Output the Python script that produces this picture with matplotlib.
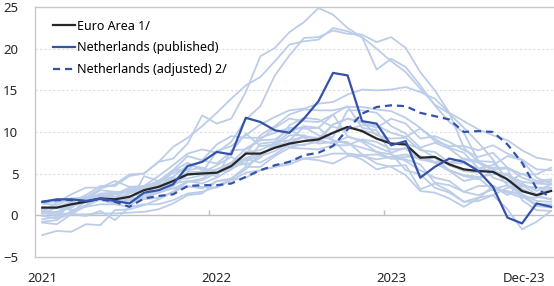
import matplotlib
matplotlib.use("Agg")
from matplotlib import pyplot as plt

# monthly HICP inflation, Jan-2021 .. Dec-2023 (y/y, percent)
months = list(range(36))
tick_pos = [0, 12, 24, 35]
tick_labels = ["2021", "2022", "2023", "Dec-23"]

euro_area = [0.9, 0.9, 1.3, 1.6, 2.0, 1.9, 2.2, 3.0, 3.4, 4.1, 4.9, 5.0,
             5.1, 5.9, 7.4, 7.4, 8.1, 8.6, 8.9, 9.1, 9.9, 10.6, 10.1, 9.2,
             8.6, 8.5, 6.9, 7.0, 6.1, 5.5, 5.3, 5.2, 4.3, 2.9, 2.4, 2.9]
nl_published = [1.6, 1.9, 1.9, 1.7, 2.0, 1.7, 1.4, 2.7, 3.0, 3.7, 5.9, 6.4,
                7.6, 7.3, 11.7, 11.2, 10.2, 9.9, 11.6, 13.7, 17.1, 16.8, 11.3, 11.0,
                8.4, 8.9, 4.5, 5.8, 6.8, 6.4, 5.3, 3.4, -0.3, -1.0, 1.4, 1.0]
nl_adjusted = [1.6, 1.8, 1.8, 1.7, 1.9, 1.6, 1.0, 2.0, 2.3, 2.5, 3.5, 3.6,
               3.6, 3.8, 4.6, 5.4, 6.0, 6.4, 7.2, 7.5, 8.3, 10.3, 12.2, 13.0,
               13.2, 13.1, 12.3, 11.9, 11.5, 10.0, 10.1, 10.0, 8.5, 6.3, 3.2, 2.1]

# other euro area countries (background lines)
estonia = [0.3, 0.4, 0.9, 2.1, 3.2, 3.7, 4.9, 5.0, 6.4, 6.8, 8.6, 12.0,
           11.0, 11.6, 14.8, 19.1, 20.1, 22.0, 23.2, 24.9, 24.1, 22.5, 21.4, 17.5,
           18.8, 17.8, 15.6, 13.2, 11.2, 9.9, 6.5, 4.5, 3.9, 5.0, 4.1, 4.3]
lithuania = [0.2, 0.9, 1.6, 2.4, 3.5, 3.5, 4.7, 5.0, 6.4, 8.2, 9.3, 10.7,
             12.3, 14.0, 15.6, 16.6, 18.5, 20.5, 20.9, 21.1, 22.5, 22.1, 21.4, 20.0,
             18.5, 17.2, 15.2, 13.3, 12.2, 10.5, 8.7, 6.7, 4.1, 2.5, 1.7, 1.6]
latvia = [-0.5, -0.2, 0.3, 1.7, 2.6, 2.7, 2.7, 3.5, 4.7, 6.0, 7.4, 7.9,
          7.5, 8.8, 11.5, 13.1, 16.8, 19.2, 21.3, 21.4, 22.2, 21.8, 21.7, 20.8,
          21.4, 20.1, 17.2, 15.0, 12.3, 8.1, 6.4, 5.6, 3.6, 2.3, 1.1, 0.9]
slovakia = [0.9, 0.9, 1.0, 1.7, 2.0, 2.5, 3.3, 3.3, 4.0, 4.4, 4.8, 5.1,
            7.7, 8.3, 9.6, 10.9, 11.8, 12.6, 12.8, 13.4, 13.6, 14.5, 15.1, 15.0,
            15.1, 15.4, 14.8, 14.0, 12.3, 11.3, 10.3, 9.6, 9.0, 7.8, 6.9, 6.6]
croatia = [0.3, 0.4, 0.9, 1.9, 2.3, 2.0, 2.6, 3.1, 3.5, 4.1, 5.2, 5.2,
           5.5, 6.3, 7.3, 9.6, 10.7, 12.1, 12.7, 12.6, 12.6, 13.0, 13.0, 12.7,
           12.5, 11.7, 10.5, 8.9, 8.3, 8.3, 7.8, 8.4, 7.4, 6.7, 5.5, 5.4]
austria = [1.4, 1.2, 2.0, 1.9, 3.0, 2.8, 2.8, 3.2, 3.3, 3.8, 4.1, 3.8,
           4.5, 5.5, 6.6, 7.1, 7.7, 8.7, 9.4, 9.2, 10.9, 11.6, 11.1, 10.5,
           11.6, 11.0, 9.2, 9.5, 8.8, 7.8, 7.0, 7.5, 5.7, 4.9, 4.9, 5.7]
belgium = [0.6, 0.3, 1.6, 2.2, 2.4, 2.6, 1.4, 4.7, 4.1, 5.4, 7.1, 6.6,
           8.5, 9.5, 9.3, 9.3, 9.9, 10.5, 10.4, 10.5, 12.1, 13.1, 10.5, 10.2,
           7.4, 5.4, 4.9, 3.3, 2.7, 1.6, 1.7, 2.4, 0.7, -1.7, -0.8, 0.5]
germany = [1.6, 1.6, 2.0, 2.1, 2.4, 2.1, 3.1, 3.4, 4.1, 4.6, 6.0, 5.7,
           5.1, 5.5, 7.6, 7.8, 8.7, 8.2, 8.5, 8.8, 10.9, 11.6, 11.3, 9.6,
           9.2, 9.3, 7.8, 7.6, 6.3, 6.8, 6.5, 6.4, 4.3, 3.0, 2.3, 3.8]
france = [0.8, 0.8, 1.4, 1.6, 1.8, 1.9, 1.5, 2.4, 2.7, 3.2, 3.4, 3.4,
          3.3, 4.2, 5.1, 5.4, 5.8, 6.5, 6.8, 6.6, 6.2, 7.1, 7.1, 6.7,
          7.0, 7.3, 6.7, 6.9, 6.0, 5.3, 5.1, 5.7, 5.7, 4.5, 3.9, 4.1]
italy = [0.7, 1.0, 0.6, 1.0, 1.3, 1.3, 1.0, 2.5, 2.9, 3.2, 4.0, 4.2,
         5.1, 6.2, 6.8, 6.3, 7.3, 8.5, 8.4, 9.1, 9.4, 12.6, 12.6, 12.3,
         10.7, 9.8, 8.1, 8.7, 8.0, 6.7, 6.3, 5.5, 5.6, 1.8, 0.6, 0.5]
spain = [0.4, -0.1, 1.2, 2.0, 2.4, 2.5, 2.9, 3.3, 4.0, 5.4, 5.5, 6.6,
         6.2, 7.6, 9.8, 8.3, 8.5, 10.0, 10.7, 10.5, 9.0, 7.3, 6.7, 5.5,
         5.9, 6.0, 3.1, 3.8, 2.9, 1.6, 2.1, 2.4, 3.3, 3.5, 3.3, 3.3]
portugal = [0.3, 0.3, 0.1, -0.1, 0.5, -0.6, 1.0, 1.3, 1.3, 1.8, 2.6, 2.8,
            3.4, 4.4, 5.5, 7.4, 8.1, 9.0, 9.4, 9.3, 9.8, 10.6, 10.2, 9.8,
            8.6, 8.6, 8.0, 6.9, 5.4, 4.7, 4.3, 5.3, 4.8, 3.2, 2.2, 1.9]
greece = [-2.4, -1.9, -2.0, -1.1, -1.2, 0.6, 0.7, 1.2, 1.9, 2.8, 4.0, 4.4,
          5.5, 6.3, 8.0, 9.1, 10.5, 11.6, 11.3, 11.2, 12.1, 9.5, 8.8, 7.6,
          7.3, 6.5, 5.4, 4.5, 4.1, 2.8, 3.5, 3.5, 2.4, 3.8, 2.9, 3.7]
ireland = [-0.1, -0.4, 0.1, 1.1, 1.9, 1.6, 2.2, 3.0, 3.8, 5.1, 5.4, 5.7,
           5.0, 5.7, 6.9, 7.3, 8.3, 9.6, 9.6, 9.0, 8.6, 9.4, 9.0, 8.2,
           7.5, 8.1, 7.0, 6.3, 5.4, 4.8, 4.6, 4.9, 5.0, 3.6, 2.5, 3.2]
finland = [0.9, 0.9, 1.6, 2.1, 2.3, 1.9, 1.8, 1.9, 2.1, 2.8, 3.5, 3.2,
           4.1, 4.4, 5.8, 5.8, 7.1, 8.1, 8.0, 7.9, 8.4, 8.4, 9.1, 8.8,
           7.9, 8.0, 6.7, 6.3, 5.3, 4.1, 4.5, 3.0, 2.9, 2.4, 1.3, 1.3]
slovenia = [-0.9, -1.1, 0.1, 1.9, 1.8, 1.4, 2.0, 2.1, 2.7, 3.5, 4.9, 5.1,
            6.0, 7.0, 6.0, 6.9, 8.7, 10.8, 11.7, 11.5, 10.6, 10.3, 10.8, 10.8,
            9.9, 9.4, 10.4, 9.2, 8.1, 7.5, 5.6, 6.0, 7.1, 6.6, 4.5, 3.8]
luxembourg = [0.4, 1.5, 2.5, 3.3, 3.3, 4.1, 3.4, 3.5, 4.0, 5.3, 6.3, 5.4,
              4.6, 7.8, 7.9, 9.0, 9.1, 10.3, 9.3, 8.6, 8.8, 8.8, 7.3, 6.2,
              5.8, 4.8, 2.9, 2.7, 2.0, 1.0, 2.0, 3.5, 2.7, 2.1, 2.1, 3.2]
cyprus = [-0.8, -0.6, 0.5, 1.2, 2.3, 2.2, 2.3, 2.5, 3.6, 4.4, 4.4, 4.8,
          5.0, 5.8, 6.2, 8.6, 8.8, 9.0, 10.6, 9.6, 9.0, 8.6, 8.1, 7.6,
          6.8, 6.7, 6.1, 3.9, 3.6, 2.8, 2.4, 3.1, 3.6, 2.8, 2.4, 1.9]
malta = [0.2, 0.1, 0.1, 0.1, 0.2, 0.2, 0.3, 0.4, 0.7, 1.4, 2.4, 2.6,
         4.1, 4.2, 4.5, 5.4, 5.8, 6.1, 6.8, 7.0, 7.4, 7.4, 7.2, 7.3,
         6.8, 7.0, 7.1, 6.4, 6.3, 6.2, 5.6, 5.2, 4.8, 4.0, 3.8, 3.7]

others = [estonia, lithuania, latvia, slovakia, croatia, austria, belgium,
          germany, france, italy, spain, portugal, greece, ireland, finland,
          slovenia, luxembourg, cyprus, malta]

plt.rcParams["font.family"] = ["Noto Sans", "DejaVu Sans"]

fig = plt.figure(figsize=(5.54, 2.86), dpi=100)
ax = fig.add_axes([35 / 554, 1 - 256.7 / 286, 1 - 35 / 554, (256.7 - 7.2) / 286])

light = "#bccde9"
blue = "#3352a8"

for series in others:
    ax.plot(months, series, color=light, lw=1.3, zorder=2)

ax.plot(months, euro_area, color="#262626", lw=1.6, zorder=4, label="Euro Area 1/")
ax.plot(months, nl_published, color=blue, lw=1.6, zorder=5,
        label="Netherlands (published)")
ax.plot(months, nl_adjusted, color=blue, lw=1.6, ls=(0, (3.2, 2.2)), zorder=5,
        label="Netherlands (adjusted) 2/")

ax.set_xlim(-0.5, 35.2)
ax.set_ylim(-5, 25)
ax.set_yticks([-5, 0, 5, 10, 15, 20, 25])
for y in [5, 10, 15, 20]:
    ax.axhline(y, color="#dedede", lw=0.8, ls=(0, (2, 2)), zorder=1)
ax.axhline(0, color="#bfbfbf", lw=1.0, zorder=1)
ax.vlines([11.5, 23.5], 0, 0.6, color="#bfbfbf", lw=1.0, zorder=1)

for side in ["left", "bottom", "top"]:
    ax.spines[side].set_color("#c8c8c8")
    ax.spines[side].set_linewidth(1.0)
ax.spines["right"].set_visible(False)

# year labels as ticks, last label placed by hand so it stays inside the figure
ax.set_xticks(tick_pos[:-1])
ax.set_xticklabels(tick_labels[:-1])
ax.tick_params(axis="x", length=0, pad=11, labelsize=9.5, labelcolor="#262626")
ax.tick_params(axis="y", length=0, pad=12, labelsize=9.5, labelcolor="#262626")
ax.annotate(tick_labels[-1], xy=(tick_pos[-1], 0), xycoords=ax.get_xaxis_transform(),
            xytext=(-4, -11), textcoords="offset points", ha="right", va="top",
            fontsize=9.5, color="#262626")

ax.legend(loc="upper left", bbox_to_anchor=(0.02, 0.98), frameon=False,
          fontsize=9, handlelength=1.8, handletextpad=0.15, labelspacing=0.7,
          borderaxespad=0.2)

fig.savefig("out.png", dpi=100)
